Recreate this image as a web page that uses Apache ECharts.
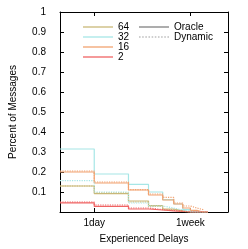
<!DOCTYPE html>
<html>
<head>
<meta charset="utf-8">
<script src="https://cdn.jsdelivr.net/npm/echarts@6/dist/echarts.min.js"></script>
<style>
html,body{margin:0;padding:0;background:#fff;}
#chart{width:248px;height:249px;}
</style>
</head>
<body>
<div id="chart"></div>
<script>
// Step edges in hours (12h, 1day, 2days, ...)
var edgesHours = [12, 24, 48, 72, 96, 120, 144, 168, 192, 216, 240];
// Percent of messages per interval [edge i, edge i+1]
var oracle64  = [0.130, 0.092, 0.055, 0.032, 0.015, 0.006, 0, 0, 0, 0];
var dynamic64 = [0.130, 0.096, 0.050, 0.028, 0.012, 0.004, 0, 0, 0, 0];
var oracle32  = [0.315, 0.190, 0.138, 0.100, 0.062, 0.040, 0.012, 0, 0, 0];
var dynamic32 = [0.157, 0.100, 0.045, 0.030, 0.020, 0.010, 0.004, 0, 0, 0];
var oracle16  = [0.200, 0.145, 0.110, 0.085, 0.060, 0.040, 0.020, 0.008, 0, 0];
var dynamic16 = [0.205, 0.150, 0.112, 0.090, 0.073, 0.045, 0.030, 0.020, 0.012, 0];
var oracle2   = [0.046, 0.028, 0.015, 0.010, 0.006, 0.003, 0, 0, 0, 0];
var dynamic2  = [0.050, 0.035, 0.020, 0.012, 0.008, 0.004, 0, 0, 0, 0];

var seriesNames = ['64', '32', '16', '2'];
var styleNames = ['Oracle', 'Dynamic'];
var seriesColors = ['#c9b878', '#a6e6e6', '#f2a270', '#f06464'];
var xTickHours = [24, 168];
var xTickLabels = ['1day', '1week'];
var xMinHours = 12, xMaxHours = 360;

function stepData(vals) {
  var pts = [];
  for (var i = 0; i < vals.length; i++) pts.push([edgesHours[i], vals[i]]);
  pts.push([edgesHours[vals.length], vals[vals.length - 1]]);
  return pts;
}

var FONT = "'Liberation Sans', Arial, sans-serif";
var oracleSets = [oracle64, oracle32, oracle16, oracle2];
var dynamicSets = [dynamic64, dynamic32, dynamic16, dynamic2];

// legend icon shapes (style only)
var solidIcon = 'rect';
var dottedIcon = 'path://';
for (var q = 0; q < 30; q += 3) dottedIcon += 'M' + q + ',0h1.5v1h-1.5z';

var series = [];
for (var k = 0; k < 4; k++) {
  series.push({
    name: seriesNames[k], type: 'line', step: 'end', symbol: 'none',
    xAxisIndex: 0, yAxisIndex: 0,
    color: seriesColors[k],
    lineStyle: {width: 1.2, color: seriesColors[k], type: 'solid'},
    data: stepData(oracleSets[k])
  });
}
for (var k2 = 0; k2 < 4; k2++) {
  series.push({
    name: seriesNames[k2] + ' Dynamic', type: 'line', step: 'end', symbol: 'none',
    xAxisIndex: 0, yAxisIndex: 0,
    color: seriesColors[k2],
    lineStyle: {width: 1.2, color: seriesColors[k2], type: 'dotted'},
    data: stepData(dynamicSets[k2])
  });
}
series.push({name: styleNames[0], type: 'line', symbol: 'none', xAxisIndex: 0, yAxisIndex: 0,
  color: '#808080', lineStyle: {width: 1, color: '#808080', type: 'solid'}, data: []});
series.push({name: styleNames[1], type: 'line', symbol: 'none', xAxisIndex: 0, yAxisIndex: 0,
  color: '#a0a0a0', lineStyle: {width: 1, color: '#a0a0a0', type: 'dotted'}, data: []});

var logTicks = xTickHours.map(function (h) { return Math.log10(h); });
function xLabel(v) {
  var best = 0, bd = 1e9;
  for (var i = 0; i < logTicks.length; i++) {
    var d = Math.abs(logTicks[i] - v);
    if (d < bd) { bd = d; best = i; }
  }
  return xTickLabels[best];
}

var legendText = {fontFamily: FONT, fontSize: 10, color: '#000', lineHeight: 10, padding: 0};
var axisLine = {show: true, lineStyle: {color: '#000', width: 1}};
var chart = echarts.init(document.getElementById('chart'), null, {renderer: 'canvas'});
chart.setOption({
  animation: false,
  backgroundColor: '#fff',
  textStyle: {fontFamily: FONT},
  grid: {left: 52, right: 20, top: 12, bottom: 35, containLabel: false},
  legend: [
    {data: seriesNames.map(function (n) { return {name: n, icon: solidIcon}; }),
     orient: 'vertical', left: 83, top: 22, itemWidth: 30, itemHeight: 1.3,
     itemGap: 0, textStyle: legendText, padding: 0},
    {data: [{name: styleNames[0], icon: solidIcon}, {name: styleNames[1], icon: dottedIcon}],
     orient: 'vertical', left: 139, top: 22, itemWidth: 30, itemHeight: 1.3,
     itemGap: 0, textStyle: legendText, padding: 0}
  ],
  xAxis: [
    {type: 'log', logBase: 10, min: xMinHours, max: xMaxHours, show: false, gridIndex: 0},
    {type: 'value', position: 'bottom', min: Math.log10(xMinHours), max: Math.log10(xMaxHours),
     gridIndex: 0, axisLine: axisLine, splitLine: {show: false},
     axisTick: {show: true, inside: true, length: 4, lineStyle: {color: '#000'}, customValues: logTicks},
     axisLabel: {show: true, customValues: logTicks, formatter: xLabel, margin: 6,
       fontFamily: FONT, fontSize: 10, color: '#000'},
     name: 'Experienced Delays', nameLocation: 'middle', nameGap: 22,
     nameTextStyle: {fontFamily: FONT, fontSize: 10, color: '#000'}},
    {type: 'value', position: 'top', min: Math.log10(xMinHours), max: Math.log10(xMaxHours),
     gridIndex: 0, axisLine: axisLine, splitLine: {show: false},
     axisTick: {show: true, inside: true, length: 4, lineStyle: {color: '#000'}, customValues: logTicks},
     axisLabel: {show: false}}
  ],
  yAxis: [
    {type: 'value', position: 'left', min: 0, max: 1, interval: 0.1, axisLine: axisLine,
     splitLine: {show: false},
     axisTick: {show: true, inside: true, length: 4, lineStyle: {color: '#000'}},
     axisLabel: {margin: 14, fontFamily: FONT, fontSize: 10, color: '#000',
       formatter: function (v) { var r = Math.round(v * 10) / 10; return r === 0 ? '' : String(r); }},
     name: 'Percent of Messages', nameLocation: 'middle', nameGap: 42,
     nameTextStyle: {fontFamily: FONT, fontSize: 10, color: '#000'}},
    {type: 'value', position: 'right', min: 0, max: 1, interval: 0.1, axisLine: axisLine,
     splitLine: {show: false},
     axisTick: {show: true, inside: true, length: 4, lineStyle: {color: '#000'}},
     axisLabel: {show: false}}
  ],
  series: series
});
</script>
</body>
</html>
